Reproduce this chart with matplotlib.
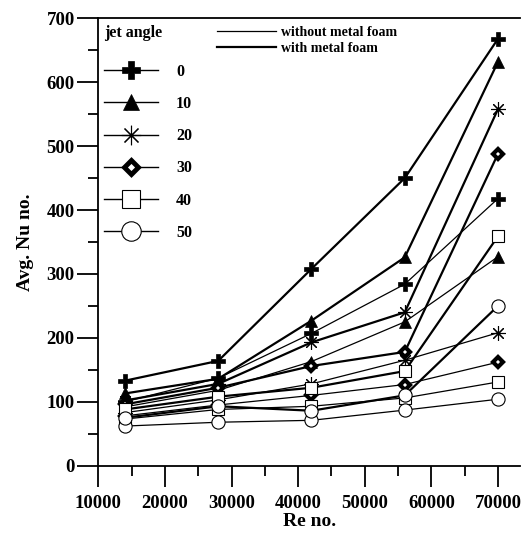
import matplotlib
matplotlib.use("Agg")
import matplotlib.pyplot as plt
from matplotlib.lines import Line2D
from matplotlib.ticker import MultipleLocator

# ==============================================================================
# DATA
# ==============================================================================
re_no  = [14000, 28000, 42000, 56000, 70000]
angles = ["0", "10", "20", "30", "40", "50"]

# one row per jet angle (0, 10, 20, 30, 40, 50)
nu_with_foam = [
    [133, 164, 308, 450, 668],
    [113, 136, 227, 326, 632],
    [102, 128, 193, 240, 558],
    [ 96, 122, 156, 178, 488],
    [ 88, 108, 122, 148, 359],
    [ 75,  93,  86, 110, 250],
]
nu_without_foam = [
    [100, 137, 207, 284, 418],
    [ 92, 118, 163, 225, 327],
    [ 83, 103, 128, 165, 208],
    [ 78,  95, 110, 127, 162],
    [ 73,  88,  93, 106, 131],
    [ 62,  68,  71,  87, 104],
]

# ==============================================================================
# STYLE
# ==============================================================================
plt.rcParams["font.family"] = ["Liberation Serif", "DejaVu Serif"]
plt.rcParams["font.weight"] = "bold"

markers = [
    dict(marker="P", ms=9.5, mfc="black", mec="black", mew=0.5),
    dict(marker="^", ms=9, mfc="black", mec="black", mew=0.5),
    dict(marker=(8, 2, 0), ms=10.5, mfc="none", mec="black", mew=0.8),
    dict(marker="D", ms=5.5, mfc="white", mec="black", mew=3.0),
    dict(marker="s", ms=9, mfc="white", mec="black", mew=0.8),
    dict(marker="o", ms=9.5, mfc="white", mec="black", mew=0.8),
]
legend_ms = [13, 12, 14, 7.5, 13, 14]

lw_with, lw_without = 1.6, 0.9

# ==============================================================================
# FIGURE
# ==============================================================================
fig = plt.figure(figsize=(5.24, 5.38), dpi=100)
ax = fig.add_axes([98.3 / 524, (538 - 465.7) / 538, 421.7 / 524, 447.4 / 538])

for i in range(len(angles)):
    ax.plot(re_no, nu_without_foam[i], color="black", lw=lw_without,
            zorder=2, **markers[i])
    ax.plot(re_no, nu_with_foam[i], color="black", lw=lw_with,
            zorder=3, **markers[i])

ax.set_xlim(10000, 73300)
ax.set_ylim(0, 700)
ax.xaxis.set_major_locator(MultipleLocator(10000))
ax.xaxis.set_minor_locator(MultipleLocator(5000))
ax.yaxis.set_major_locator(MultipleLocator(100))
ax.yaxis.set_minor_locator(MultipleLocator(50))
ax.tick_params(which="major", direction="out", length=15, width=1.3,
               labelsize=13.5, pad=2)
ax.tick_params(which="minor", direction="out", length=7, width=1.3)
ax.tick_params(axis="x", which="major", pad=6)
ax.spines["right"].set_visible(False)
for s in ["left", "bottom", "top"]:
    ax.spines[s].set_linewidth(1.3)

ax.set_xlabel("Re no.", fontsize=14, fontweight="bold", labelpad=1)
ax.set_ylabel("Avg. Nu no.", fontsize=14, fontweight="bold", labelpad=9)

# legend: jet angle
h1 = [Line2D([], [], color="black", lw=1.0,
             **{**markers[i], "ms": legend_ms[i],
                "mew": 3.5 if i == 3 else markers[i]["mew"]})
      for i in range(len(angles))]
leg1 = ax.legend(h1, angles, title="jet angle", loc="upper left",
                 bbox_to_anchor=(-0.005, 1.002), frameon=False, borderpad=0,
                 handlelength=3.4, handletextpad=1.1, labelspacing=1.02,
                 prop=dict(size=11.5, weight="bold"),
                 title_fontproperties=dict(size=11.5, weight="bold"),
                 alignment="left")
leg1._legend_box.sep = 16
ax.add_artist(leg1)

# legend: foam / no foam
h2 = [Line2D([], [], color="black", lw=lw_without),
      Line2D([], [], color="black", lw=lw_with)]
ax.legend(h2, ["without metal foam", "with metal foam"], loc="upper left",
          bbox_to_anchor=(0.265, 0.998), frameon=False, borderpad=0,
          handlelength=4.25, handletextpad=0.35, labelspacing=0.2,
          prop=dict(size=10, weight="bold"))

fig.savefig("out.png", dpi=100)
